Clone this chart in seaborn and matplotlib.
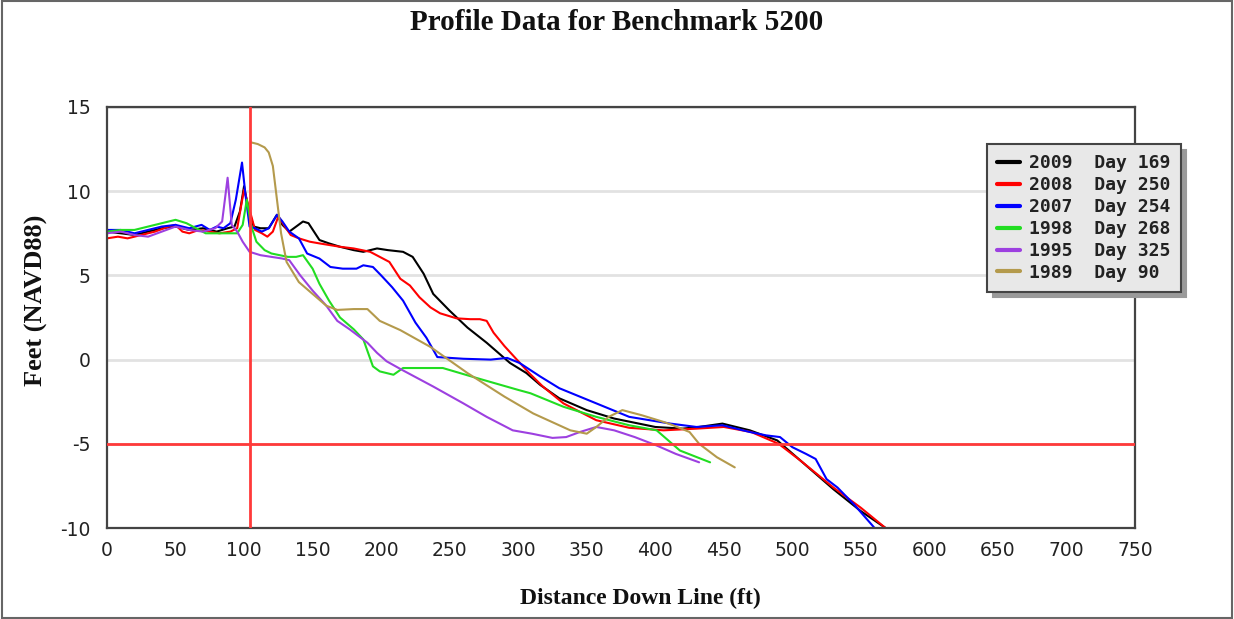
import matplotlib
matplotlib.use("Agg")
import matplotlib.pyplot as plt
from matplotlib.ticker import MultipleLocator
from matplotlib.patches import Rectangle
import pandas as pd
import seaborn as sns

# Survey identifiers and line colours
years = ["2009", "2008", "2007", "1998", "1995", "1989"]
days = [169, 250, 254, 268, 325, 90]
colors = ["#000000", "#ff0000", "#0000ff", "#22dd22", "#9d40e0", "#b49a4c"]

# Profile elevations (ft, NAVD88) against distance down the line (ft)
x_2009 = [0, 10, 20, 30, 40, 50, 60, 70, 80, 88, 93, 97, 100, 103, 107, 112, 118, 124, 128,
          133, 138, 143, 147, 155, 162, 170, 180, 187, 197, 205, 216, 223, 231, 238, 250, 263,
          277, 294, 306, 316, 330, 350, 370, 400, 420, 432, 449, 469, 489, 506, 530, 550, 568]
y_2009 = [7.6, 7.5, 7.4, 7.6, 7.8, 7.9, 7.7, 7.8, 7.6, 7.8, 7.9, 8.8, 10.3, 9.0, 7.9, 7.8, 7.8,
          8.6, 8.0, 7.6, 7.9, 8.2, 8.1, 7.1, 6.9, 6.7, 6.5, 6.4, 6.6, 6.5, 6.4, 6.1, 5.1, 3.9,
          2.9, 1.9, 1.0, -0.2, -0.8, -1.5, -2.3, -3.0, -3.5, -4.0, -4.1, -4.0, -3.8, -4.2, -4.8,
          -6.0, -7.7, -9.0, -10.0]

x_2008 = [0, 8, 15, 25, 35, 45, 50, 55, 60, 67, 75, 82, 90, 95, 98, 100, 103, 108, 113, 117,
          121, 125, 129, 134, 140, 148, 155, 170, 180, 192, 206, 214, 221, 228, 236, 243, 255,
          265, 272, 277, 282, 290, 299, 308, 318, 333, 357, 381, 406, 430, 450, 470, 490, 506,
          530, 550, 568]
y_2008 = [7.2, 7.3, 7.2, 7.4, 7.6, 7.9, 8.0, 7.6, 7.5, 7.7, 7.6, 7.5, 7.6, 7.8, 9.2, 10.1, 9.2,
          7.7, 7.5, 7.3, 7.6, 8.5, 8.0, 7.4, 7.2, 7.0, 6.9, 6.7, 6.6, 6.4, 5.8, 4.8, 4.4, 3.7,
          3.1, 2.75, 2.45, 2.4, 2.4, 2.3, 1.6, 0.8, 0.0, -0.8, -1.6, -2.6, -3.6, -4.05, -4.2,
          -4.1, -4.0, -4.3, -5.0, -6.0, -7.6, -8.8, -10.0]

x_2007 = [0, 10, 20, 30, 40, 50, 60, 69, 75, 80, 85, 90, 94, 98.5, 101, 104, 108, 113, 118,
          124, 128, 133, 140, 146, 155, 163, 172, 182, 187, 194, 200, 208, 216, 225, 233, 241,
          260, 280, 292, 301, 316, 330, 345, 357, 381, 411, 430, 449, 469, 481, 491, 500, 510,
          517, 525, 533, 545, 560]
y_2007 = [7.7, 7.7, 7.5, 7.7, 7.9, 8.0, 7.8, 8.0, 7.7, 7.9, 7.8, 8.1, 9.5, 11.7, 9.8, 7.9, 7.8,
          7.6, 7.8, 8.6, 8.2, 7.6, 7.2, 6.3, 6.0, 5.5, 5.4, 5.4, 5.6, 5.5, 5.0, 4.3, 3.5, 2.2,
          1.3, 0.15, 0.05, 0.0, 0.1, -0.2, -1.0, -1.7, -2.2, -2.6, -3.4, -3.8, -4.0, -3.9,
          -4.3, -4.5, -4.6, -5.2, -5.6, -5.9, -7.1, -7.6, -8.6, -10.0]

x_1998 = [0, 10, 20, 30, 40, 50, 58, 65, 72, 80, 88, 95, 99, 102, 105, 109, 115, 120, 126, 132,
          138, 143, 150, 155, 162, 170, 180, 187, 194, 199, 209, 216, 225, 236, 245, 270, 300,
          309, 333, 357, 381, 401, 418, 440]
y_1998 = [7.6, 7.7, 7.7, 7.9, 8.1, 8.3, 8.1, 7.8, 7.5, 7.5, 7.5, 7.5, 8.0, 9.5, 8.0, 7.0, 6.5,
          6.3, 6.2, 6.1, 6.1, 6.2, 5.4, 4.5, 3.5, 2.5, 1.8, 1.2, -0.4, -0.7, -0.9, -0.5, -0.5,
          -0.5, -0.5, -1.1, -1.8, -2.0, -2.8, -3.4, -3.9, -4.2, -5.4, -6.1]

x_1995 = [0, 10, 20, 30, 40, 50, 60, 70, 79, 84, 88, 91, 95, 99, 104, 112, 120, 128, 133, 141,
          150, 160, 168, 177, 190, 197, 204, 215, 238, 260, 277, 296, 310, 325, 335, 345, 357,
          370, 385, 401, 415, 432]
y_1995 = [7.5, 7.6, 7.4, 7.3, 7.6, 7.9, 7.7, 7.6, 7.8, 8.2, 10.8, 8.0, 7.6, 7.0, 6.4, 6.2, 6.1,
          6.0, 5.9, 5.0, 4.1, 3.2, 2.3, 1.8, 1.0, 0.4, -0.1, -0.6, -1.6, -2.6, -3.4, -4.2, -4.4,
          -4.65, -4.6, -4.3, -4.0, -4.2, -4.6, -5.1, -5.6, -6.1]

x_1989 = [105, 110, 115, 118, 121, 124, 127, 131, 140, 150, 160, 168, 180, 190, 199, 214,
          236, 263, 290, 311, 338, 350, 357, 366, 376, 390, 406, 413, 425, 432, 445, 458]
y_1989 = [12.9, 12.8, 12.6, 12.3, 11.5, 9.5, 7.5, 5.8, 4.6, 3.9, 3.2, 2.95, 3.0, 3.0,
          2.3, 1.75, 0.75, -0.8, -2.2, -3.2, -4.2, -4.4, -4.0, -3.4, -3.0, -3.3, -3.7, -3.9,
          -4.3, -5.0, -5.8, -6.4]

xs = [x_2009, x_2008, x_2007, x_1998, x_1995, x_1989]
ys = [y_2009, y_2008, y_2007, y_1998, y_1995, y_1989]

# Reference lines: benchmark station and the -5 ft contour
station_x = 104
contour_y = -5

labels = [f"{yr}  Day {d}" for yr, d in zip(years, days)]
frames = [pd.DataFrame({"survey": lab, "distance": x, "elevation": y})
          for lab, x, y in zip(labels, xs, ys)]
df = pd.concat(frames, ignore_index=True)

sns.set_style("white")
plt.rcParams["font.family"] = ["DejaVu Sans"]
plt.rcParams["axes.unicode_minus"] = False

fig = plt.figure(figsize=(12.34, 6.19), dpi=100)
fig.patch.set_facecolor("white")
ax = fig.add_axes([107 / 1234, 1 - 528 / 619, (1135 - 107) / 1234, (528 - 107) / 619])

sns.lineplot(data=df, x="distance", y="elevation", hue="survey",
             palette=dict(zip(labels, colors)), hue_order=labels,
             estimator=None, sort=False, linewidth=1.5, ax=ax, legend=True)

ax.axvline(station_x, color="#ff3a3a", linewidth=2, zorder=5)
ax.axhline(contour_y, color="#ff3a3a", linewidth=2, zorder=5)

ax.set_xlim(0, 750)
ax.set_ylim(-10, 15)
ax.xaxis.set_major_locator(MultipleLocator(50))
ax.xaxis.set_minor_locator(MultipleLocator(10))
ax.yaxis.set_major_locator(MultipleLocator(5))
ax.yaxis.set_minor_locator(MultipleLocator(1))
ax.yaxis.grid(True, which="major", color="#e2e2e2", linewidth=2)
ax.xaxis.grid(False)
ax.set_axisbelow(True)

ax.tick_params(which="major", direction="in", length=7, width=1.1, color="#333333",
               labelsize=13.5, labelcolor="#222222")
ax.tick_params(which="minor", direction="in", length=3.5, width=1, color="#333333")
ax.tick_params(axis="y", which="major", pad=12)
ax.tick_params(axis="x", which="major", pad=9)
ax.tick_params(top=False, right=False, which="both")
for s in ax.spines.values():
    s.set_color("#444444")
    s.set_linewidth(1.6)

serif = ["Liberation Serif", "DejaVu Serif"]
ax.set_xlabel("Distance Down Line (ft)", family=serif, weight="bold", fontsize=17,
              color="#111111")
ax.set_ylabel("Feet (NAVD88)", family=serif, weight="bold", fontsize=19, color="#111111")
ax.xaxis.set_label_coords((640 - 107) / (1135 - 107), -(598 - 528) / (528 - 107))
ax.yaxis.set_label_coords(-(107 - 36) / (1135 - 107), (528 - 300) / (528 - 107))
ax.xaxis.label.set_va("center")
ax.yaxis.label.set_va("center")

fig.text(0.5, 1 - 22 / 619, "Profile Data for Benchmark 5200", family=serif,
         weight="bold", fontsize=21, ha="center", va="center", color="#111111")

handles, _ = ax.get_legend_handles_labels()
leg = ax.legend(handles, labels, loc="upper left",
                bbox_to_anchor=(987 / 1234, 1 - 144 / 619), bbox_transform=fig.transFigure,
                prop=dict(family="DejaVu Sans Mono", weight="bold", size=13),
                handlelength=1.3, handletextpad=0.5, labelspacing=0.22, borderpad=0.55,
                borderaxespad=0, fancybox=False, framealpha=1,
                facecolor="#e8e8e8", edgecolor="#444444",
                shadow={"ox": 4, "oy": -4, "color": "#9a9a9a", "alpha": 1})
leg.get_frame().set_linewidth(1.5)
for h in leg.legend_handles:
    h.set_linewidth(3)
for t in leg.get_texts():
    t.set_color("#222222")
leg.set_zorder(10)

fig.patches.append(Rectangle((0.002, 0.002), 0.996, 0.996, transform=fig.transFigure,
                             fill=False, edgecolor="#666666", linewidth=1.5))

fig.savefig("out.png", dpi=100, facecolor="white")
